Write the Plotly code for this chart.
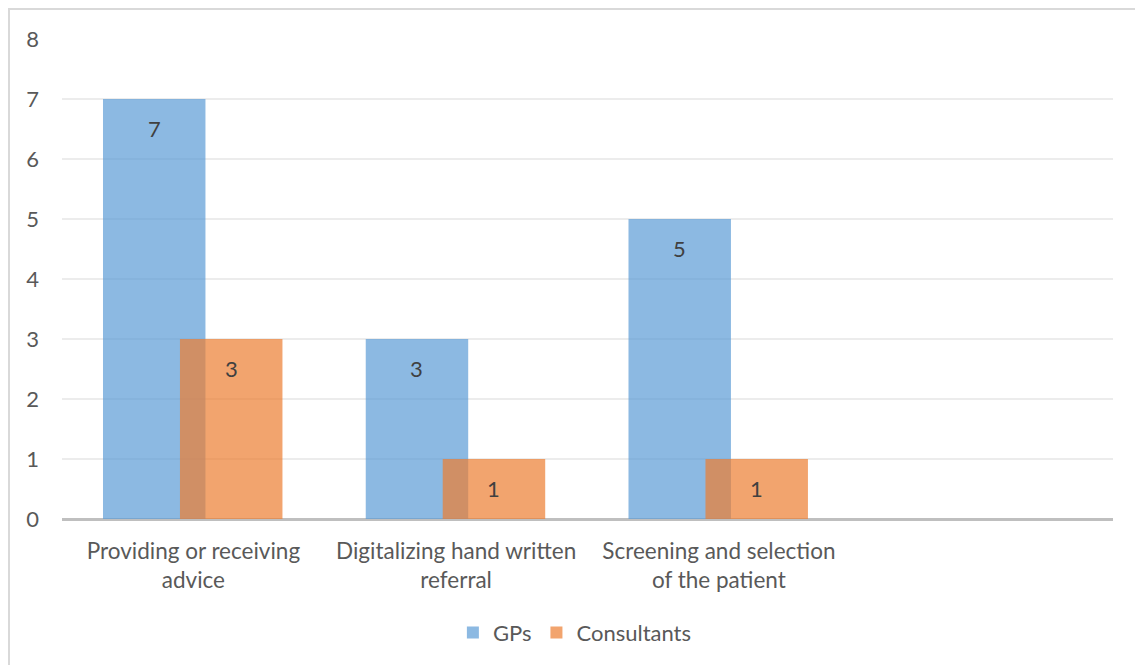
import plotly.graph_objects as go

categories = ["Providing or receiving<br>advice", "Digitalizing hand written<br>referral", "Screening and selection<br>of the patient"]
gps = [7, 3, 5]
consultants = [3, 1, 1]
series_names = ["GPs", "Consultants"]
y_ticks = [0, 1, 2, 3, 4, 5, 6, 7, 8]

W, H = 1135, 665
L, R, T, B = 62, 22, 39, 146
bar_w = 0.39
offsets = [-0.344, -0.051]
colors = ["rgba(91,155,213,0.7)", "rgba(237,125,49,0.7)"]
FONT = "Lato, 'Open Sans', sans-serif"
TXT = "#595959"
FS = 22

xpos = list(range(len(categories)))
fig = go.Figure()
for name, vals, off, col in zip(series_names, [gps, consultants], offsets, colors):
    fig.add_trace(go.Bar(
        x=xpos, y=vals, name=name, width=bar_w, offset=off,
        marker=dict(color=col, line=dict(width=0)),
    ))
    for xi, v in zip(xpos, vals):
        fig.add_annotation(x=xi + off + bar_w / 2, y=v, text=str(v), showarrow=False,
                           yshift=-29, font=dict(size=FS, color="#404040", family=FONT))

fig.update_layout(
    width=W, height=H,
    margin=dict(l=L, r=R, t=T, b=B, autoexpand=False),
    barmode="overlay",
    plot_bgcolor="white", paper_bgcolor="white",
    font=dict(family=FONT, color=TXT, size=FS),
    xaxis=dict(range=[-0.5, 3.5], tickvals=xpos, ticktext=categories,
               showgrid=False, zeroline=False, showline=False, ticks="",
               ticklabelstandoff=16, automargin=False,
               tickfont=dict(size=22.5, color=TXT)),
    yaxis=dict(range=[0, 8], tickvals=y_ticks, showgrid=True, gridcolor="#ececec",
               gridwidth=1.5, zeroline=True, zerolinecolor="#bfbfbf", zerolinewidth=3,
               showline=False, ticks="", ticklabelstandoff=22, automargin=False,
               tickfont=dict(size=FS, color=TXT)),
    legend=dict(orientation="h", x=0.488, xanchor="center", y=-0.193, yanchor="top",
                font=dict(size=FS, color=TXT), itemwidth=30, traceorder="normal"),
    showlegend=True,
)
pw = W - L - R
ph = H - T - B
fig.add_shape(type="rect", xref="paper", yref="paper",
              x0=(9 - L) / pw, x1=(W + 20 - L) / pw,
              y0=-(H + 20 - T - ph) / ph, y1=(T + ph - 9) / ph,
              line=dict(color="#d9d9d9", width=2), fillcolor="rgba(0,0,0,0)", layer="below")

fig.write_html("out.html")
